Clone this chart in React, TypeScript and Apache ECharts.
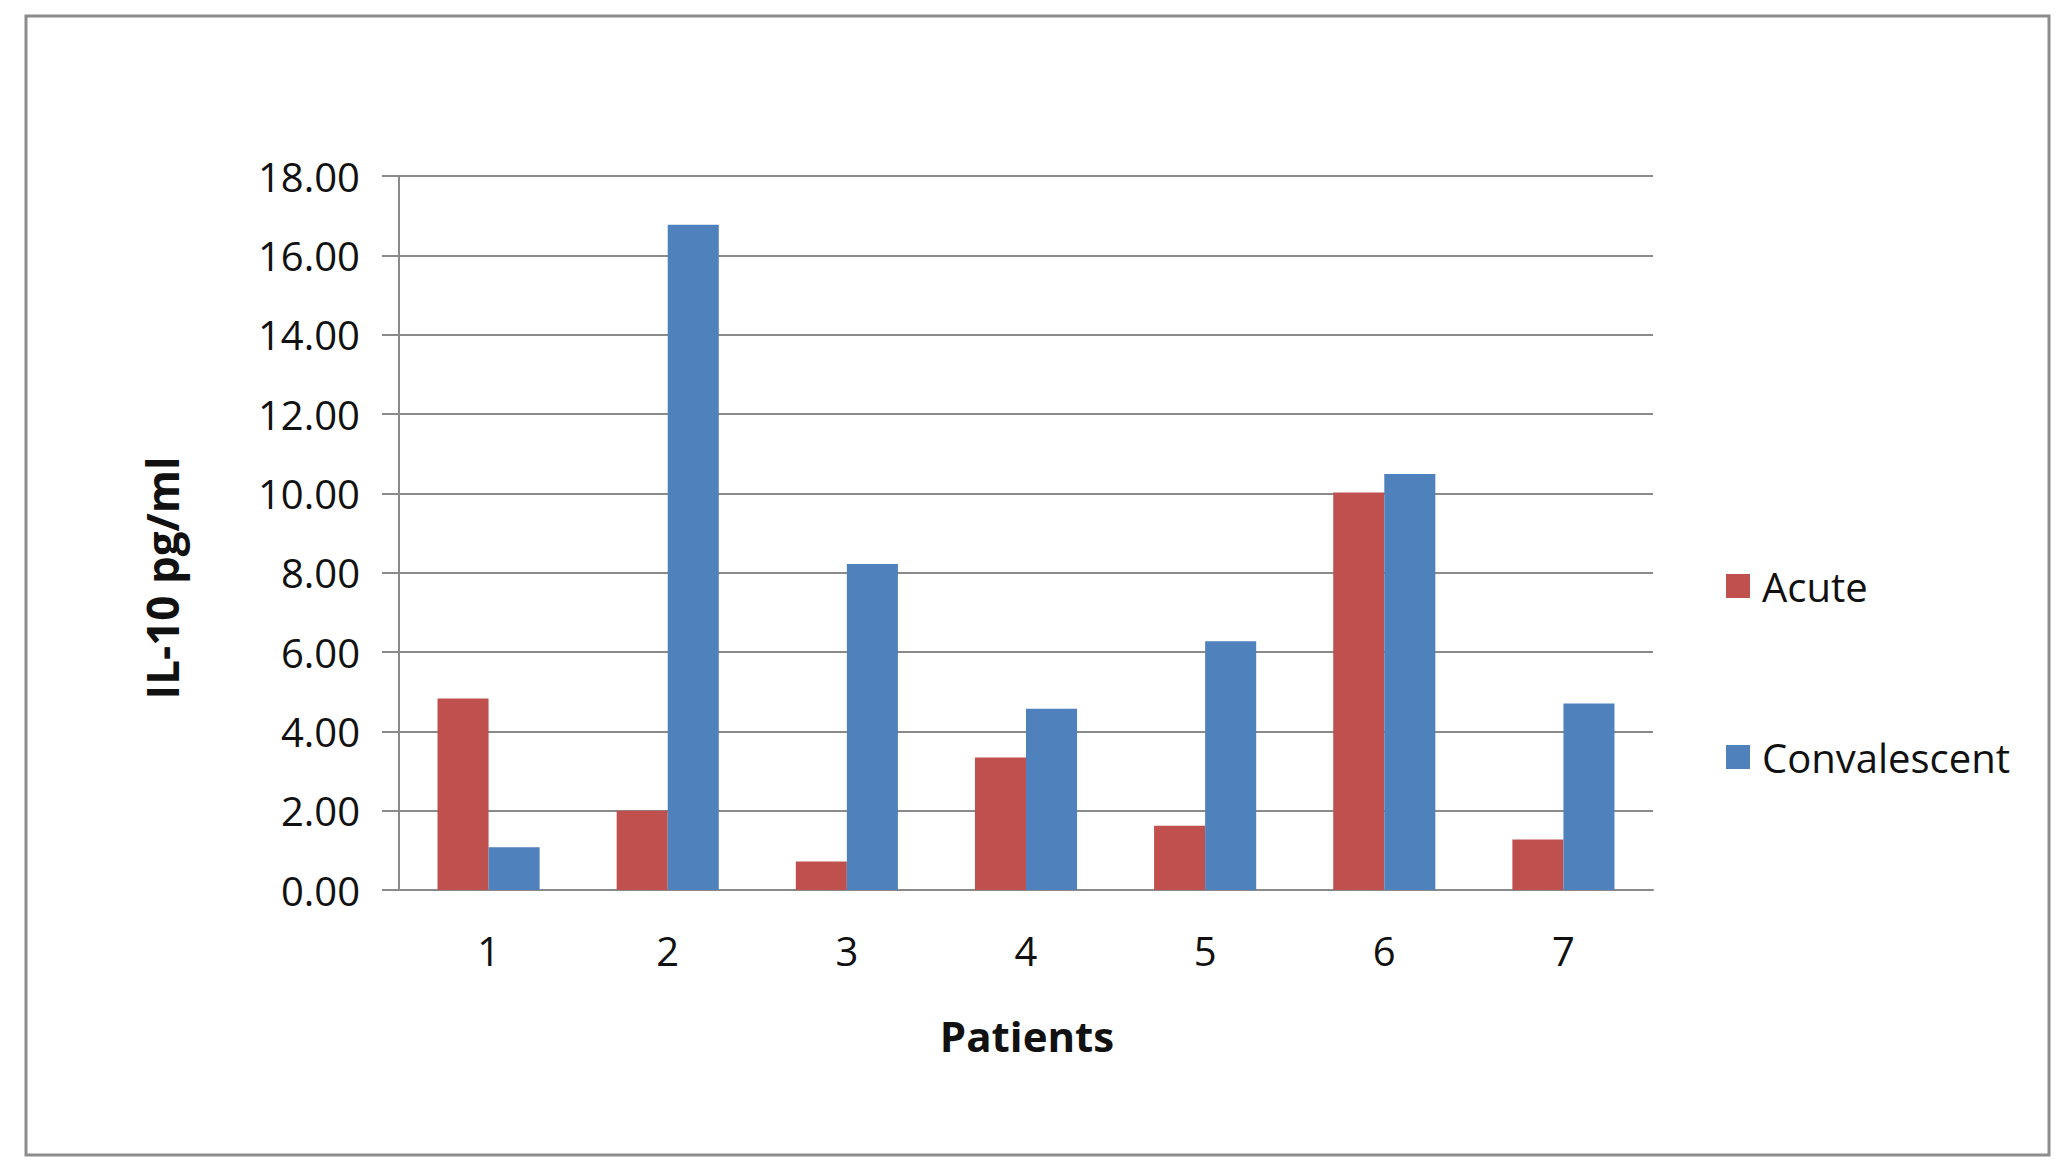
import { useEffect, useRef } from "react";
import * as echarts from "echarts";

const patients = ["1", "2", "3", "4", "5", "6", "7"];
const acuteValues = [4.83, 2.0, 0.72, 3.34, 1.62, 10.02, 1.27];
const convalescentValues = [1.08, 16.77, 8.22, 4.57, 6.27, 10.49, 4.7];
const yTicks = { min: 0, max: 18, interval: 2 };

const FONT = "'Open Sans', 'Liberation Sans', sans-serif";
const GRID_GRAY = "#8a8a8a";

export default function App() {
  const ref = useRef<HTMLDivElement | null>(null);

  useEffect(() => {
    document.body.style.margin = "0";
    if (!ref.current) {
      return;
    }
    const chart = echarts.init(ref.current, undefined, { renderer: "svg" });

    chart.setOption({
      animation: false,
      backgroundColor: "#ffffff",
      textStyle: { fontFamily: FONT },
      grid: { left: 399, top: 176, width: 1254, height: 714 },
      legend: {
        orient: "vertical",
        left: 1721,
        top: 561,
        itemWidth: 24,
        itemHeight: 24,
        itemGap: 131,
        icon: "rect",
        textStyle: { fontFamily: FONT, fontSize: 40, color: "#111", padding: [0, 0, 0, 7] },
        data: ["Acute", "Convalescent"]
      },
      xAxis: {
        type: "category",
        data: patients,
        axisLine: { lineStyle: { color: GRID_GRAY, width: 2 } },
        axisTick: { length: 15, lineStyle: { color: GRID_GRAY, width: 2 } },
        axisLabel: { fontFamily: FONT, fontSize: 40, color: "#111", margin: 40 }
      },
      yAxis: {
        type: "value",
        min: yTicks.min,
        max: yTicks.max,
        interval: yTicks.interval,
        axisLine: { show: true, lineStyle: { color: GRID_GRAY, width: 2 } },
        axisTick: { show: true, length: 17, lineStyle: { color: GRID_GRAY, width: 2 } },
        splitLine: { lineStyle: { color: GRID_GRAY, width: 2 } },
        axisLabel: {
          fontFamily: FONT,
          fontSize: 40,
          color: "#111",
          margin: 39,
          formatter: (v: number) => v.toFixed(2)
        }
      },
      graphic: [
        {
          type: "rect",
          shape: { x: 26, y: 16, width: 2023, height: 1139 },
          style: { fill: "none", stroke: "#8c8c8c", lineWidth: 3 },
          silent: true
        },
        {
          type: "text",
          x: 162,
          y: 578,
          rotation: Math.PI / 2,
          style: {
            text: "IL-10 pg/ml",
            font: `bold 44px ${FONT}`,
            fill: "#111",
            textAlign: "center",
            textVerticalAlign: "middle"
          }
        },
        {
          type: "text",
          x: 1027,
          y: 1035,
          style: {
            text: "Patients",
            font: `bold 42px ${FONT}`,
            fill: "#111",
            textAlign: "center",
            textVerticalAlign: "middle"
          }
        }
      ],
      series: [
        {
          name: "Acute",
          type: "bar",
          data: acuteValues,
          barGap: "0%",
          barCategoryGap: "43%",
          itemStyle: { color: "#c0504d" }
        },
        {
          name: "Convalescent",
          type: "bar",
          data: convalescentValues,
          barGap: "0%",
          barCategoryGap: "43%",
          itemStyle: { color: "#4f81bd" }
        }
      ]
    });

    return () => {
      chart.dispose();
    };
  }, []);

  return <div ref={ref} style={{ width: 2070, height: 1176 }} />;
}
